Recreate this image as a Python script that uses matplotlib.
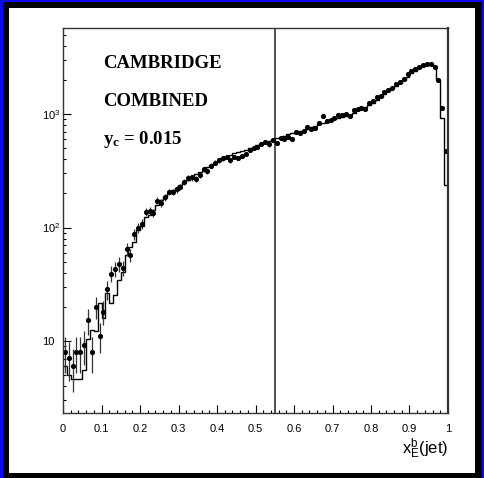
import matplotlib
matplotlib.use('Agg')
import matplotlib.pyplot as plt
import matplotlib.patches as patches
from matplotlib.ticker import MultipleLocator, LogLocator, FuncFormatter, NullFormatter
import numpy as np

'''
Data read off the picture (100 bins of width 0.01 in x_E^b)
'''
bin_edges = np.round(np.arange(0, 1.001, 0.01), 3)

# simulation (histogram)
mc_counts = [6.0, 5.0, 4.6, 4.6, 4.6, 5.5, 10.5, 12.5, 12.2, 21.8,
             15.9, 26.3, 21.8, 25.4, 34.4, 40.8, 57.2, 67.7, 75, 95,
             103, 124, 128, 142, 157, 174, 187, 200, 212, 225,
             237, 250, 262, 278, 294, 307, 320, 338, 355, 370,
             385, 400, 417, 434, 451, 460, 470, 485, 500, 515,
             530, 548, 565, 582, 600, 612, 625, 645, 665, 678,
             690, 705, 720, 745, 770, 792, 815, 840, 865, 885,
             905, 922, 940, 960, 980, 1030, 1080, 1115, 1150, 1205,
             1260, 1340, 1420, 1500, 1590, 1680, 1770, 1880, 2000, 2140,
             2290, 2410, 2530, 2640, 2750, 2800, 2600, 2000, 917, 236]

# data points
data_counts = [8.0, 7.1, 6.0, 8.0, 8.0, 9.2, 15.2, 8.0, 20.0, 11.1,
               18.1, 28.5, 39.1, 43.3, 47.6, 44.4, 64.6, 57.5, 87, 100,
               108, 137, 140, 135, 173, 166, 184, 206, 206, 218,
               229, 254, 271, 276, 268, 290, 325, 315, 350, 372,
               392, 408, 418, 390, 418, 410, 428, 445, 482, 500,
               512, 545, 568, 540, 588, 556, 615, 600, 625, 608,
               690, 684, 705, 775, 735, 750, 832, 952, 870, 895,
               925, 985, 990, 995, 955, 1080, 1105, 1135, 1115, 1245,
               1295, 1405, 1455, 1565, 1645, 1700, 1830, 1920, 2040, 2240,
               2400, 2500, 2600, 2700, 2780, 2780, 2600, 1990, 1140, 475]

x_cut = 0.55
labels = ['CAMBRIDGE', 'COMBINED']
yc_value = '0.015'

'''
Fonts
'''
plt.rcParams['font.family'] = ['Liberation Sans', 'DejaVu Sans']
plt.rcParams['mathtext.fontset'] = 'custom'
plt.rcParams['mathtext.rm'] = 'Liberation Sans'
plt.rcParams['mathtext.it'] = 'Liberation Sans:italic'
plt.rcParams['mathtext.bf'] = 'Liberation Serif:bold'

W, H = 485, 478
fig = plt.figure(figsize=(W / 100, H / 100), dpi=100)
fig.patch.set_facecolor('#0a0af5')

# black frame and white pad (pixel boxes converted to figure fractions)
fig.patches.append(patches.Rectangle((3 / W, 0), 479 / W, 476 / H, transform=fig.transFigure,
                                     facecolor='black', edgecolor='none', zorder=-10))
fig.patches.append(patches.Rectangle((9 / W, 5 / H), 466 / W, 465 / H, transform=fig.transFigure,
                                     facecolor='white', edgecolor='none', zorder=-9))

ax = fig.add_axes([63 / W, 65 / H, 385 / W, 385 / H])
ax.set_facecolor('white')
ax.set_zorder(1)

centers = (bin_edges[:-1] + bin_edges[1:]) / 2
data = np.array(data_counts)
errors = np.sqrt(data)

# simulation as a step histogram
ax.stairs(mc_counts, bin_edges, baseline=None, color='black', linewidth=1.0)

# data with statistical errors
ax.errorbar(centers, data, yerr=errors, fmt='o', color='black', markersize=2.7,
            elinewidth=0.9, ecolor='#333333', capsize=0)

# cut line
ax.axvline(x_cut, color='#333333', linewidth=1.2)

ax.set_yscale('log')
ax.set_xlim(0, 1)
ax.set_ylim(2.32, 5730)

# ticks
ax.xaxis.set_major_locator(MultipleLocator(0.1))
ax.xaxis.set_minor_locator(MultipleLocator(0.02))
ax.xaxis.set_major_formatter(FuncFormatter(lambda v, p: '%g' % round(v, 2)))
ax.yaxis.set_major_locator(LogLocator(base=10))
ax.yaxis.set_minor_locator(LogLocator(base=10, subs=np.arange(2, 10)))
ax.yaxis.set_minor_formatter(NullFormatter())


def ylab(v, p):
    n = int(round(np.log10(v)))
    if n == 1:
        return '10'
    return r'$\mathrm{10^{%d}}$' % n


ax.yaxis.set_major_formatter(FuncFormatter(ylab))
ax.tick_params(axis='both', which='both', direction='in', top=False, right=False,
               width=0.8, labelsize=8)
ax.tick_params(axis='both', which='major', length=5.5)
ax.tick_params(axis='both', which='minor', length=2.5)
ax.tick_params(axis='x', which='major', pad=8)
ax.tick_params(axis='y', which='major', pad=15.3)
for lab in ax.get_yticklabels():
    lab.set_horizontalalignment('left')

for s in ax.spines.values():
    s.set_color('#333333')
    s.set_linewidth(1.0)
ax.spines['right'].set_linewidth(1.6)

# axis title
ax.text(1.0, -0.105, r'x$\mathrm{_E^b}$(jet)', transform=ax.transAxes,
        ha='right', va='baseline', fontsize=12)

# labels inside the frame
ax.text(0.103, 0.895, labels[0], transform=ax.transAxes, family='Liberation Serif',
        weight='bold', fontsize=13.5, va='baseline')
ax.text(0.103, 0.797, labels[1], transform=ax.transAxes, family='Liberation Serif',
        weight='bold', fontsize=13.5, va='baseline')
ax.text(0.103, 0.699, r'$\mathbf{y_c}$ = ' + yc_value, transform=ax.transAxes,
        family='Liberation Serif', weight='bold', fontsize=13.5, va='baseline')

fig.savefig('out.png', dpi=100, facecolor=fig.get_facecolor())
